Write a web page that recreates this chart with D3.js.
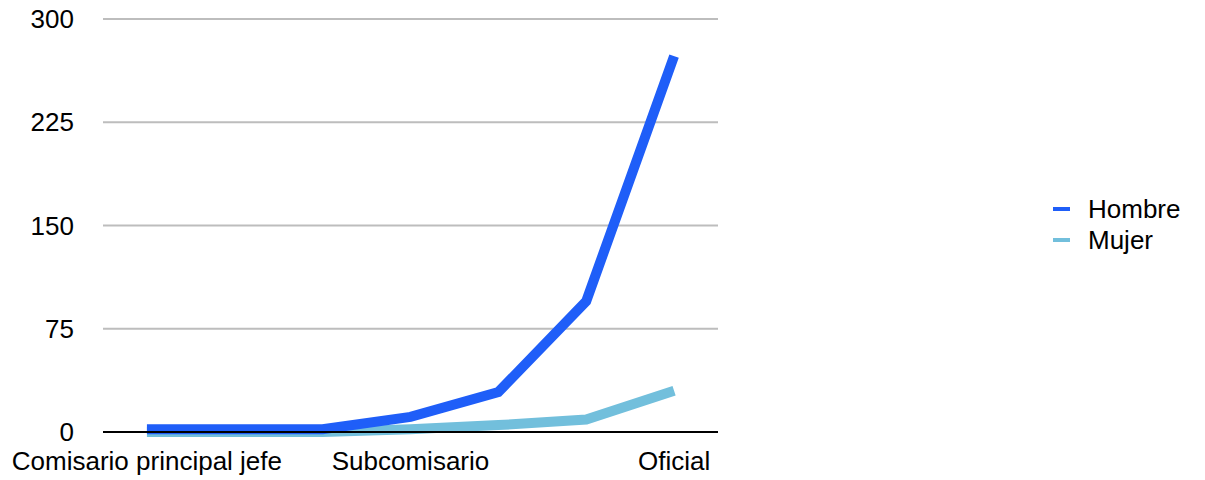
<!DOCTYPE html>
<html>
<head>
<meta charset="utf-8">
<script src="https://cdn.jsdelivr.net/npm/d3@7"></script>
<style>
  body { margin: 0; background: #fff; }
  svg text { font-family: "Liberation Sans", Arial, Helvetica, sans-serif; fill: #000; }
</style>
</head>
<body>
<svg id="chart" width="1205" height="480"></svg>
<script>
var categories = ["Comisario principal jefe", "Comisario principal", "Comisario", "Subcomisario", "Inspector jefe", "Inspector", "Oficial"];
var hombre = [2, 2, 2, 11, 29, 95, 273];
var mujer = [0, 0, 0, 2, 5, 9, 30];
var yTicks = [0, 75, 150, 225, 300];
var shownLabels = ["Comisario principal jefe", "Subcomisario", "Oficial"];

var series = [
  { name: "Hombre", values: hombre, color: "#1f5ef8" },
  { name: "Mujer", values: mujer, color: "#72bfdc" }
];

const svg = d3.select('#chart');
const plotLeft = 103, plotRight = 718, plotTop = 19, plotBottom = 432;
const fontSize = 26;

const x = d3.scalePoint().domain(categories).range([plotLeft, plotRight]).padding(0.5);
const y = d3.scaleLinear().domain([0, 300]).range([plotBottom, plotTop]);

// gridlines
svg.append('g')
  .selectAll('line')
  .data(yTicks.filter(d => d > 0))
  .enter().append('line')
    .attr('x1', plotLeft).attr('x2', plotRight)
    .attr('y1', d => y(d)).attr('y2', d => y(d))
    .attr('stroke', '#bdbdbd')
    .attr('stroke-width', 2)

// y labels
svg.append('g')
  .selectAll('text')
  .data(yTicks)
  .enter().append('text')
    .attr('x', 74)
    .attr('y', d => y(d) + 9)
    .attr('text-anchor', 'end')
    .attr('font-size', fontSize)
    .text(d => d)

// lines (mujer first, hombre on top)
const line = d3.line()
  .x((d, i) => x(categories[i]))
  .y(d => y(d));

svg.append('g')
  .selectAll('path')
  .data(series.slice().reverse())
  .enter().append('path')
    .attr('d', s => line(s.values))
    .attr('fill', 'none')
    .attr('stroke', s => s.color)
    .attr('stroke-width', 10)
    .attr('stroke-linejoin', 'miter')

// baseline axis
svg.append('line')
  .attr('x1', plotLeft).attr('x2', plotRight)
  .attr('y1', y(0)).attr('y2', y(0))
  .attr('stroke', '#000')
  .attr('stroke-width', 2)

// x labels
svg.append('g')
  .selectAll('text')
  .data(shownLabels)
  .enter().append('text')
    .attr('x', d => x(d))
    .attr('y', 470)
    .attr('text-anchor', 'middle')
    .attr('font-size', fontSize)
    .text(d => d)

// legend
const legend = svg.append('g')
  .selectAll('g')
  .data(series)
  .enter().append('g')
    .attr('transform', (d, i) => 'translate(1053,' + (209 + i * 31) + ')')

legend.append('line')
  .attr('x1', 0).attr('x2', 17)
  .attr('stroke', d => d.color)
  .attr('stroke-width', 4)

legend.append('text')
  .attr('x', 35)
  .attr('y', 9)
  .attr('font-size', fontSize)
  .text(d => d.name)
</script>
</body>
</html>
